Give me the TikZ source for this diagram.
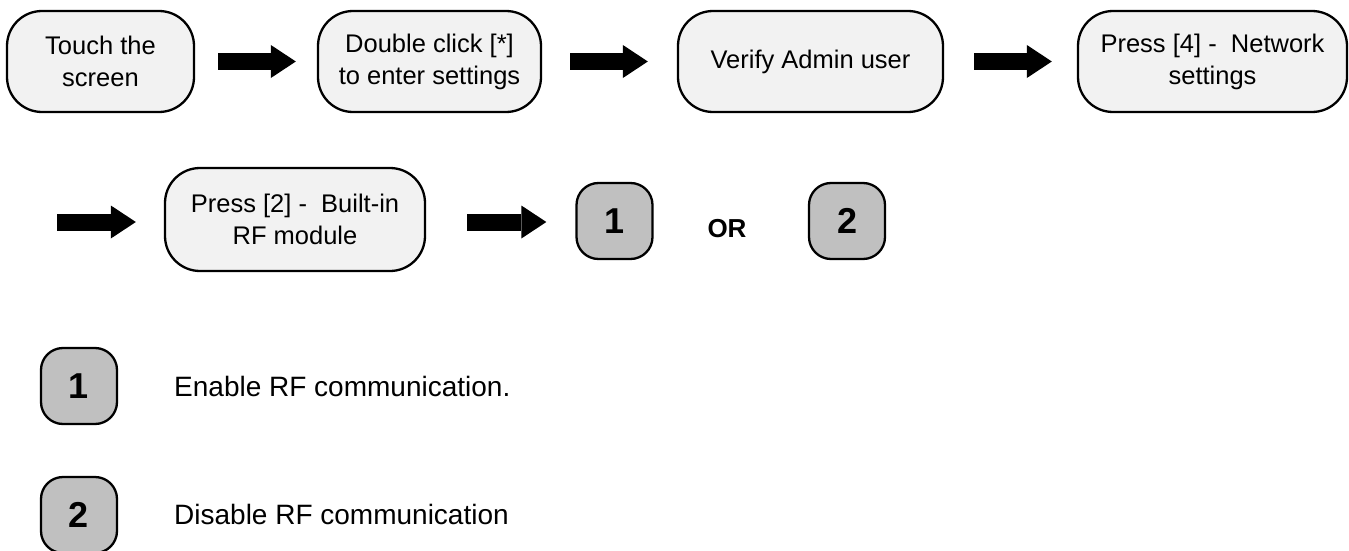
\documentclass[tikz,border=0pt]{standalone}
\usepackage{fontspec}
\setmainfont{Liberation Sans}
\usetikzlibrary{arrows.meta}
\definecolor{boxgray}{HTML}{F2F2F2}
\definecolor{keygray}{HTML}{C0C0C0}

\begin{document}
\begin{tikzpicture}[x=1pt,y=-1pt,
  stepbox/.style={draw,line width=2.3pt,rounded corners=35pt,fill=boxgray,
    align=center,inner sep=0pt,minimum height=101pt,
    font=\fontsize{25.5}{32}\selectfont},
  keybox/.style={draw,line width=2.3pt,rounded corners=22pt,fill=keygray,
    inner sep=0pt,minimum width=76pt,minimum height=76pt,
    font=\fontsize{36}{36}\selectfont\bfseries},
  desc/.style={anchor=west,inner sep=0pt,font=\fontsize{28}{28}\selectfont},
  flow/.style={line width=17pt,
    -{Triangle[length=25pt,width=33pt,line width=0pt]}}]
  \useasboundingbox (0,0) rectangle (1349,551);

  % first row
  \node[stepbox,minimum width=187pt] (touch) at (100.5,61.5) {Touch the\\screen};
  \node[stepbox,minimum width=223pt] (dclick) at (429.5,61.5) {Double click [*]\\to enter settings};
  \node[stepbox,minimum width=265pt] (admin) at (810.5,61.5) {Verify Admin user};
  \node[stepbox,minimum width=269pt] (network) at (1212.5,61.5) {Press [4] -\ \ Network\\settings};

  % second row
  \coordinate (start) at (57,222);
  \node[stepbox,minimum width=260pt,minimum height=103pt] (rfmod) at (295,219.5) {Press [2] -\ \ Built-in\\RF module};
  \node[keybox] (opt1) at (614.5,221) {1};
  \node[inner sep=0pt,font=\fontsize{26}{26}\selectfont\bfseries] (or) at (727,228.5) {OR};
  \node[keybox] (opt2) at (847,221) {2};

  % legend
  \node[keybox] (key1) at (79,386) {1};
  \node[desc] (enable) at (174,386) {Enable RF communication.};
  \node[keybox] (key2) at (79,515) {2};
  \node[desc] (disable) at (174,514) {Disable RF communication};

  \draw[flow,shorten <=23pt,shorten >=21pt] (touch) -- (dclick);
  \draw[flow,shorten <=28pt,shorten >=29pt] (dclick) -- (admin);
  \draw[flow,shorten <=30pt,shorten >=25pt] (admin) -- (network);
  \draw[flow,shorten >=28pt] (start) -- (start -| rfmod.west);
  \draw[flow,shorten <=41pt,shorten >=29pt] (rfmod.east |- start) -- (opt1.west |- start);
\end{tikzpicture}
\end{document}
